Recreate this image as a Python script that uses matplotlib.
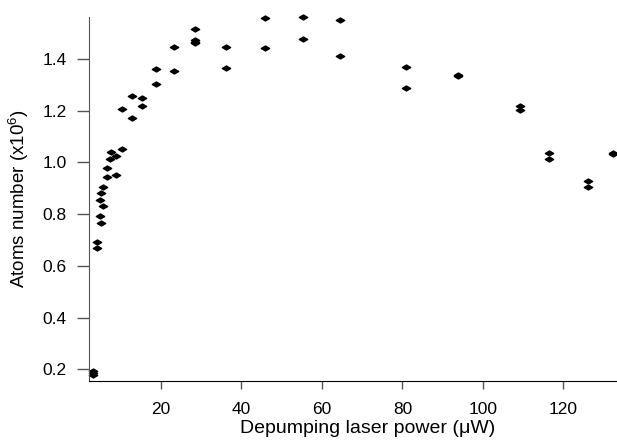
import numpy as np
import matplotlib
matplotlib.use('Agg')
import matplotlib.pyplot as plt
from matplotlib.path import Path

plt.rcParams['font.family'] = ['Liberation Sans', 'DejaVu Sans']
plt.rcParams['mathtext.fontset'] = 'custom'
plt.rcParams['mathtext.rm'] = 'Liberation Sans'
plt.rcParams['mathtext.it'] = 'Liberation Sans:italic'

# 数据：depumping 功率 (uW) 与原子数 (x1e6)
power = [3.2, 3.2, 3.2,
         4.1, 4.1, 4.9, 5.1, 4.9, 5.2, 5.7, 5.7, 6.6, 6.6,
         7.4, 7.6, 8.9, 8.9, 10.3, 10.3,
         12.8, 12.8, 15.3, 15.3, 18.8, 18.8, 23.4, 23.4,
         28.5, 28.5, 28.5, 28.5, 36.1, 36.1, 46.0, 46.0,
         55.2, 55.2, 64.5, 64.5, 80.9, 80.9, 93.7, 93.7,
         109.2, 109.2, 116.5, 116.5, 126.2, 126.2, 132.4, 132.4]
atoms = [0.192, 0.186, 0.180,
         0.693, 0.670, 0.794, 0.767, 0.855, 0.880, 0.906, 0.831, 0.977, 0.944,
         1.014, 1.041, 1.026, 0.951, 1.050, 1.206,
         1.257, 1.170, 1.250, 1.218, 1.362, 1.305, 1.446, 1.352,
         1.516, 1.472, 1.465, 1.460, 1.446, 1.364, 1.560, 1.443,
         1.564, 1.479, 1.550, 1.412, 1.368, 1.287, 1.338, 1.333,
         1.218, 1.202, 1.035, 1.012, 0.929, 0.906, 1.037, 1.033]

xticks = [20, 40, 60, 80, 100, 120]
yticks = [0.2, 0.4, 0.6, 0.8, 1.0, 1.2, 1.4]

# 扁菱形标记
diamond = Path([(-1, 0), (0, 0.6), (1, 0), (0, -0.6), (-1, 0)],
               [Path.MOVETO, Path.LINETO, Path.LINETO, Path.LINETO, Path.CLOSEPOLY])

fig = plt.figure(figsize=(6.17, 4.42), dpi=100)
ax = fig.add_axes([0.1438, 0.138, 1.0 - 0.1438, 0.962 - 0.138])
ax.plot(power, atoms, linestyle='none', marker=diamond, markersize=6,
        color='black', clip_on=False)

ax.set_xlim(2.1, 133.3)
ax.set_ylim(0.155, 1.563)
ax.set_xticks(xticks)
ax.set_yticks(yticks)
ax.set_yticklabels(['%.1f' % v for v in yticks])

for s in ['top', 'right']:
    ax.spines[s].set_visible(False)
ax.spines['left'].set_color('#555555')
ax.spines['bottom'].set_color('black')
ax.tick_params(axis='x', direction='out', length=6, width=1, color='#555555',
               labelsize=12.5, pad=9)
ax.tick_params(axis='y', direction='out', length=9, width=1, color='#555555',
               labelsize=12.5, pad=7)

ax.set_xlabel('Depumping laser power (\u03bcW)', fontsize=14)
ax.xaxis.set_label_coords(0.528, -0.106)
ax.set_ylabel('Atoms number (x10$^{6}$)', fontsize=13.5, labelpad=8)

plt.savefig('out.png', dpi=100)
